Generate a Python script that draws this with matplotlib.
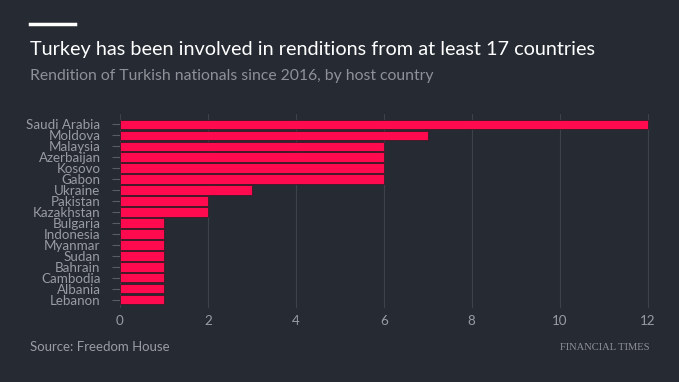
import matplotlib
matplotlib.use('Agg')
import matplotlib.pyplot as plt
from matplotlib.lines import Line2D

countries = ['Saudi Arabia', 'Moldova', 'Malaysia', 'Azerbaijan', 'Kosovo', 'Gabon',
             'Ukraine', 'Pakistan', 'Kazakhstan', 'Bulgaria', 'Indonesia', 'Myanmar',
             'Sudan', 'Bahrain', 'Cambodia', 'Albania', 'Lebanon']
renditions = [12, 7, 6, 6, 6, 6, 3, 2, 2, 1, 1, 1, 1, 1, 1, 1, 1]
xticks = [0, 2, 4, 6, 8, 10, 12]

bg = '#262a33'
bar_color = '#ff0a4e'
label_color = '#9a9ca3'

plt.rcParams['font.family'] = ['Lato', 'DejaVu Sans']

fig = plt.figure(figsize=(6.79, 3.82), dpi=100, facecolor=bg)
ax = fig.add_axes([0.1767, 0.193, 0.7803, 0.508], facecolor=bg)

ypos = list(range(len(countries)))
ax.barh(ypos, renditions, height=0.88, color=bar_color, edgecolor='#3a1a26',
        linewidth=0.6, zorder=3)

ax.set_ylim(16.8, -0.935)
ax.set_xlim(0, 12.05)
ax.set_yticks(ypos)
ax.set_yticklabels(countries, fontsize=9.6, color=label_color)
ax.set_xticks(xticks)
ax.set_xticklabels([str(t) for t in xticks], fontsize=9.6, color=label_color)
ax.tick_params(axis='y', length=6, width=0.8, color='#5a5d65', pad=8)
ax.tick_params(axis='x', length=0, pad=5)
ax.xaxis.grid(True, color='#3d414b', linewidth=0.8, zorder=0)
for s in ax.spines.values():
    s.set_visible(False)

fig.add_artist(Line2D([30 / 679, 75 / 679], [1 - 24 / 382, 1 - 24 / 382],
                      color='white', linewidth=2.5, transform=fig.transFigure))
fig.text(30 / 679, 1 - 50 / 382, 'Turkey has been involved in renditions from at least 17 countries',
         fontsize=14.3, color='white', va='center', ha='left')
fig.text(30 / 679, 1 - 76 / 382, 'Rendition of Turkish nationals since 2016, by host country',
         fontsize=11.3, color='#8e9197', va='center', ha='left')
fig.text(30 / 679, 1 - 347 / 382, 'Source: Freedom House',
         fontsize=9.5, color=label_color, va='center', ha='left')
fig.text(650 / 679, 1 - 348 / 382, 'FINANCIAL TIMES', family='Liberation Serif',
         fontsize=7.6, color='#8e9197', va='center', ha='right')

fig.savefig('out.png', dpi=100, facecolor=bg)
